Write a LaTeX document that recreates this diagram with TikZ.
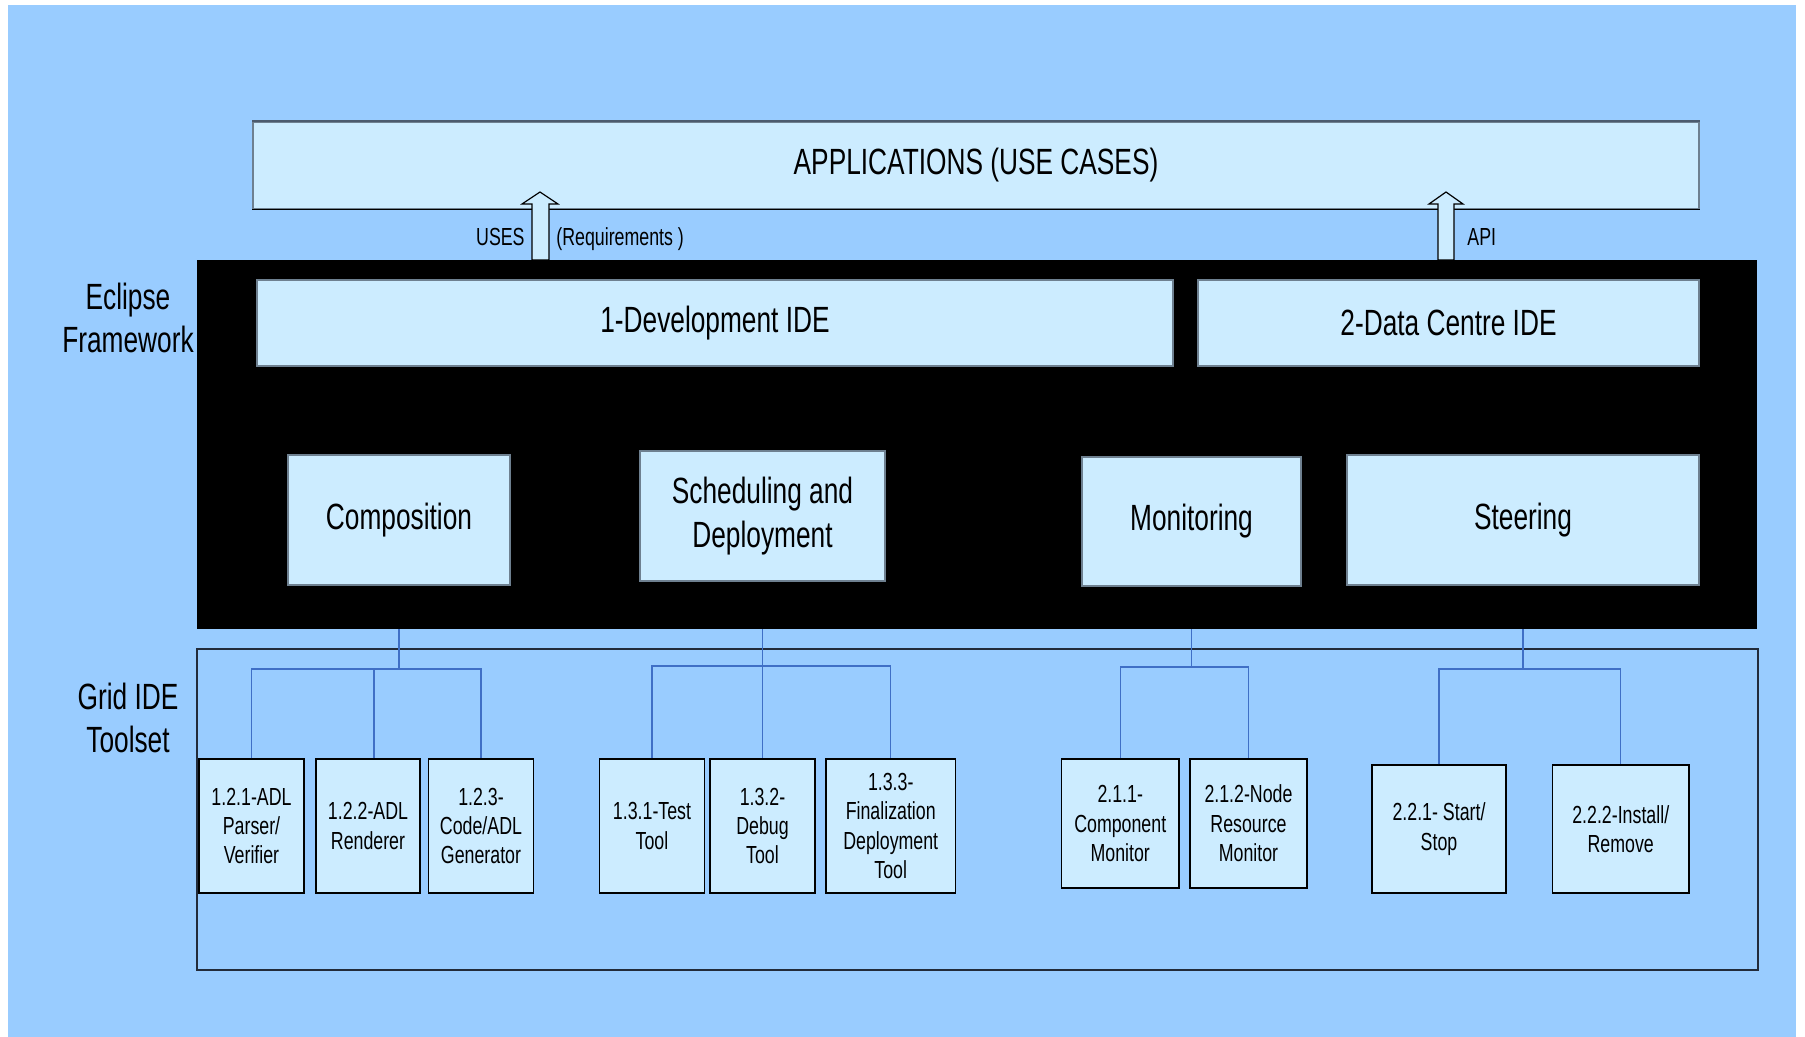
\documentclass[tikz,border=0pt]{standalone}
\usepackage{fontspec}
\setmainfont{Liberation Sans}[FakeStretch=0.72]
\definecolor{slide}{HTML}{99CCFF}
\definecolor{boxfill}{HTML}{CCECFF}
\definecolor{wirecol}{HTML}{3F6FC6}
\definecolor{rim}{HTML}{6E8090}
\definecolor{slate}{HTML}{4B5B6E}
\definecolor{frameline}{HTML}{222B3A}
\begin{document}
\begin{tikzpicture}[x=0.5pt,y=-0.5pt,
  sz/.style 2 args={minimum width={#1*0.5pt}, minimum height={#2*0.5pt}},
  bigtext/.style={font=\fontsize{18.25}{21.9}\selectfont},
  smalltext/.style={font=\fontsize{12.35}{14.7}\selectfont},
  panel/.style={draw=rim, line width=0.6pt, fill=boxfill, inner sep=0pt, bigtext, align=center},
  tool/.style={draw=black, line width=0.75pt, fill=boxfill, inner sep=0pt, smalltext, align=center},
  wire/.style={draw=wirecol, line width=0.7pt},
  hollow/.style={draw=black, line width=0.6pt, fill=boxfill, line join=miter},
  caption/.style={bigtext, align=center},
  tag/.style={smalltext, anchor=base, inner sep=0pt}
]
\useasboundingbox (0,0) rectangle (1805,1037);
\fill[white] (0,0) rectangle (1805,1037);
\fill[slide] (8,5) rectangle (1796,1037);

% applications layer
\node[panel, sz={1446}{87}] (apps) at (976,165.5) {APPLICATIONS (USE CASES)};
\draw[slate, line width=1pt] (apps.north west) -- (apps.north east);
\draw[black, line width=0.7pt] (apps.south west) -- (apps.south east);

% Eclipse framework block and the toolset frame
\node[fill=black, inner sep=0pt, sz={1560}{369}] (eclipse) at (977,444.5) {};
\node[draw=frameline, line width=0.8pt, inner sep=0pt, sz={1561}{321}] (toolset) at (977.5,809.5) {};

\node[caption] (efw) at (128,318) {Eclipse\\Framework};
\node[caption] (gid) at (128,718) {Grid IDE\\Toolset};

% hollow arrows up to the applications
\draw[hollow] (532,260) -- (532,204) -- (522,204) -- (540,192) -- (558,204) -- (549,204) -- (549,260) -- cycle;
\draw[hollow] (1438,260) -- (1438,204) -- (1429,204) -- (1446,192) -- (1463,204) -- (1454,204) -- (1454,260) -- cycle;
\node[tag, anchor=base east] (uses) at (525,246) {USES};
\node[tag, anchor=base west] (req) at (556,246) {(Requirements )};
\node[tag, anchor=base west] (api) at (1467,246) {API};

% IDEs and their modules
\node[panel, sz={916}{86}] (dev) at (715,323) {1-Development IDE};
\node[panel, sz={501}{86}] (dc) at (1448.5,323) {2-Data Centre IDE};
\node[panel, sz={222}{130}] (comp) at (399,520) {Composition};
\node[panel, sz={245}{130}] (sched) at (762.5,516) {Scheduling and\\Deployment};
\node[panel, sz={219}{129}] (mon) at (1191.5,521.5) {Monitoring};
\node[panel, sz={352}{130}] (steer) at (1523,520) {Steering};

% tools
\node[tool, sz={105}{134}] (b121) at (251.5,826) {1.2.1-ADL\\Parser/\\Verifier};
\node[tool, sz={104}{134}] (b122) at (368,826) {1.2.2-ADL\\Renderer};
\node[tool, sz={105}{134}] (b123) at (481,826) {1.2.3-\\Code/ADL\\Generator};
\node[tool, sz={105}{134}] (b131) at (652,826) {1.3.1-Test\\Tool};
\node[tool, sz={105}{134}] (b132) at (762.5,826) {1.3.2-\\Debug\\Tool};
\node[tool, sz={129.5}{134}] (b133) at (890.75,826) {1.3.3-\\Finalization\\Deployment\\Tool};
\node[tool, sz={117.5}{129}] (b211) at (1120.25,823.5) {2.1.1-\\Component\\Monitor};
\node[tool, sz={117}{129}] (b212) at (1248.5,823.5) {2.1.2-Node\\Resource\\Monitor};
\node[tool, sz={134}{128}] (b221) at (1439,829) {2.2.1- Start/\\Stop};
\node[tool, sz={136.5}{128}] (b222) at (1620.75,829) {2.2.2-Install/\\Remove};

% tree connectors
\coordinate (cj) at (comp.south |- 0,669);
\draw[wire] (comp.south |- eclipse.south) -- (cj);
\draw[wire] (b121.north) |- (cj) -| (b123.north);
\draw[wire] ([xshift=3pt]b122.north) -- ([xshift=3pt]b122.north |- cj);

\coordinate (sj) at (sched.south |- 0,666);
\draw[wire] (sched.south |- eclipse.south) -- (b132.north);
\draw[wire] (b131.north) |- (sj) -| (b133.north);

\coordinate (mj) at (mon.south |- 0,667);
\draw[wire] (mon.south |- eclipse.south) -- (mj);
\draw[wire] (b211.north) |- (mj) -| (b212.north);

\coordinate (tj) at (steer.south |- 0,669);
\draw[wire] (steer.south |- eclipse.south) -- (tj);
\draw[wire] (b221.north) |- (tj) -| (b222.north);
\end{tikzpicture}
\end{document}
